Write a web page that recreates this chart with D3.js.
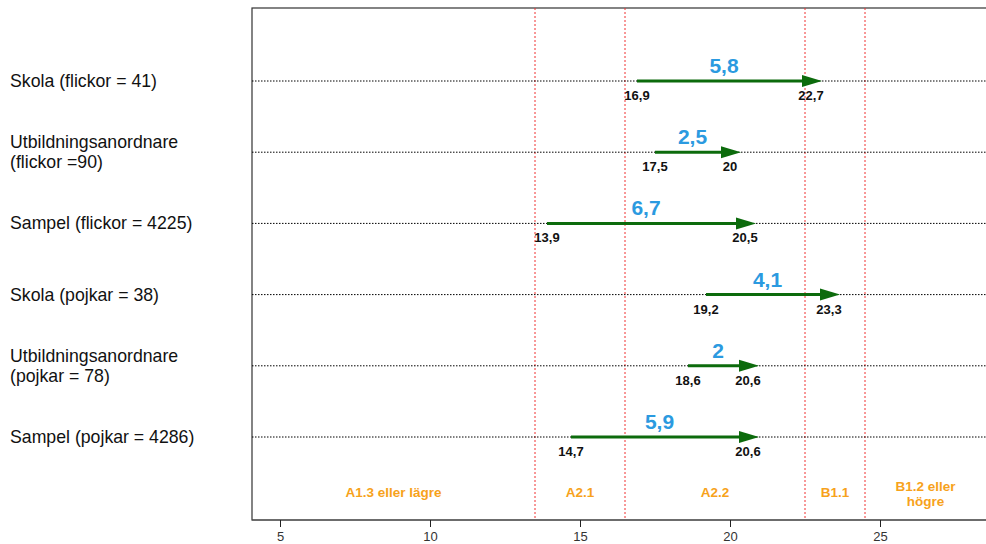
<!DOCTYPE html>
<html><head><meta charset="utf-8">
<script src="https://cdn.jsdelivr.net/npm/d3@7"></script>
<style>body{margin:0;background:#fff}svg{display:block}</style>
</head><body>
<svg id="c" width="986" height="544"></svg>
<script>
const categories = [["Skola (flickor = 41)"],["Utbildningsanordnare","(flickor =90)"],["Sampel (flickor = 4225)"],["Skola (pojkar = 38)"],["Utbildningsanordnare","(pojkar = 78)"],["Sampel (pojkar = 4286)"]];
const startValues = [16.9, 17.5, 13.9, 19.2, 18.6, 14.7];
const endValues = [22.7, 20, 20.5, 23.3, 20.6, 20.6];
const diffLabels = ["5,8","2,5","6,7","4,1","2","5,9"];
const startLabels = ["16,9","17,5","13,9","19,2","18,6","14,7"];
const endLabels = ["22,7","20","20,5","23,3","20,6","20,6"];
const levelBreaks = [13.5, 16.5, 22.5, 24.5];
const levelNames = [["A1.3 eller lägre"],["A2.1"],["A2.2"],["B1.1"],["B1.2 eller","högre"]];
const xTicks = [5,10,15,20,25];

(function(){
const svg = d3.select("#c");
const pl=252, pt=8, pb=520, pr=986;
const x = d3.scaleLinear().domain([5,25]).range([280,880]);
const xmin = x.invert(pl), xmax = x.invert(pr);
const y = d3.scalePoint().domain(d3.range(categories.length)).range([81,437]);
const font = "Arial, 'Liberation Sans', sans-serif";

// frame
svg.append("rect").attr("x",pl).attr("y",pt).attr("width",pr-pl+5).attr("height",pb-pt)
  .attr("fill","none").attr("stroke","#333").attr("stroke-width",1.2);

// red level lines
svg.selectAll(".lv").data(levelBreaks).join("line")
  .attr("x1",d=>x(d)).attr("x2",d=>x(d)).attr("y1",pt).attr("y2",pb)
  .attr("stroke","#f03030").attr("stroke-width",1).attr("stroke-dasharray","2,2");

// level names
const bounds = [xmin, ...levelBreaks, xmax];
levelNames.forEach((lines,i)=>{
  const cx = x((bounds[i]+bounds[i+1])/2);
  const t = svg.append("text").attr("x",cx).attr("text-anchor","middle")
    .attr("font-family",font).attr("font-size",13.5).attr("font-weight","bold").attr("fill","#f7a21b");
  const y0 = lines.length===1 ? 497 : 491;
  lines.forEach((l,j)=>t.append("tspan").attr("x",cx).attr("y",y0+j*15).text(l));
});

// dotted row lines
svg.selectAll(".rl").data(categories).join("line")
  .attr("x1",pl).attr("x2",pr).attr("y1",(d,i)=>y(i)).attr("y2",(d,i)=>y(i))
  .attr("stroke","#000").attr("stroke-width",1).attr("stroke-dasharray","1.5,1.5");

// category labels
categories.forEach((lines,i)=>{
  const t = svg.append("text").attr("font-family",font).attr("font-size",17.7).attr("fill","#111");
  const y0 = lines.length===1 ? y(i)+6 : y(i)-4;
  lines.forEach((l,j)=>t.append("tspan").attr("x",10).attr("y",y0+j*20).text(l));
});

// arrows
const green="#0c6b0c";
categories.forEach((c,i)=>{
  const xs=x(startValues[i]), xe=x(endValues[i]), yy=y(i);
  const tip = xe+11;
  svg.append("line").attr("x1",xs).attr("x2",tip-12).attr("y1",yy).attr("y2",yy)
    .attr("stroke",green).attr("stroke-width",3);
  svg.append("path").attr("d",`M${tip},${yy} L${tip-20},${yy-6} L${tip-20},${yy+6} Z`).attr("fill",green);
  svg.append("text").attr("x",xs).attr("y",yy+19).attr("text-anchor","middle")
    .attr("font-family",font).attr("font-size",13).attr("font-weight","bold").attr("fill","#111").text(startLabels[i]);
  svg.append("text").attr("x",xe).attr("y",yy+19).attr("text-anchor","middle")
    .attr("font-family",font).attr("font-size",13).attr("font-weight","bold").attr("fill","#111").text(endLabels[i]);
  svg.append("text").attr("x",(xs+xe)/2).attr("y",yy-8).attr("text-anchor","middle")
    .attr("font-family",font).attr("font-size",21).attr("font-weight","bold").attr("fill","#2b9ae0").text(diffLabels[i]);
});

// axis
const ax = svg.append("g").attr("transform",`translate(0,${pb})`)
  .call(d3.axisBottom(x).tickValues(xTicks).tickSize(7).tickPadding(5));
ax.select(".domain").attr("d",`M${pl},0H${pr}`).attr("stroke","#555").attr("stroke-width",1.2);
ax.selectAll(".tick line").attr("stroke","#222");
ax.selectAll("text").attr("font-family",font).attr("font-size",13).attr("fill","#333");
})();
</script>
</body></html>
